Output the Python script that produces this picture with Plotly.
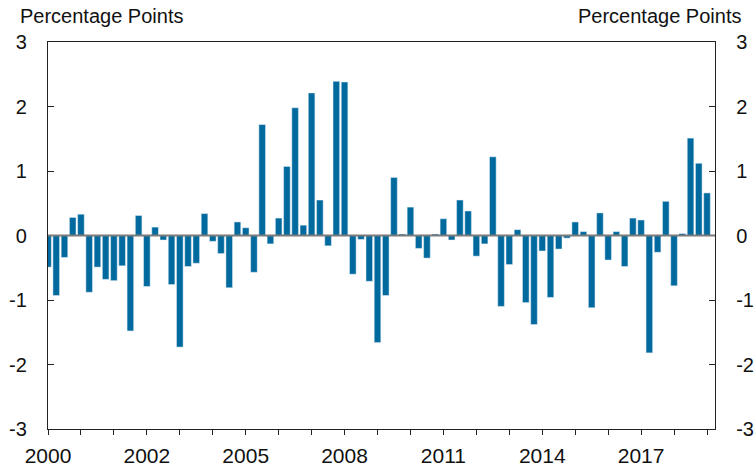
import plotly.graph_objects as go

# Quarterly values (percentage points), first quarter at index 0
values = [
    -0.49, -0.93, -0.34, 0.28, 0.33, -0.88, -0.49, -0.68, -0.70, -0.47,
    -1.48, 0.31, -0.79, 0.13, -0.07, -0.76, -1.73, -0.48, -0.43, 0.34,
    -0.09, -0.28, -0.81, 0.21, 0.12, -0.57, 1.72, -0.13, 0.27, 1.07,
    1.98, 0.16, 2.21, 0.55, -0.16, 2.39, 2.38, -0.60, -0.06, -0.71,
    -1.66, -0.93, 0.90, 0.01, 0.44, -0.20, -0.35, 0.01, 0.26, -0.07,
    0.55, 0.38, -0.32, -0.13, 1.22, -1.10, -0.45, 0.09, -1.04, -1.38,
    -0.24, -0.96, -0.21, -0.04, 0.21, 0.06, -1.12, 0.35, -0.38, 0.06,
    -0.48, 0.27, 0.24, -1.82, -0.26, 0.53, -0.78, 0.03, 1.51, 1.12,
    0.66,
]
quarters = list(range(len(values)))

year_labels = ["2000", "2002", "2005", "2008", "2011", "2014", "2017"]
year_ticks = [0, 12, 24, 36, 48, 60, 72]
tick_positions = list(range(0, 81, 4))
tick_text = [year_labels[year_ticks.index(t)] if t in year_ticks else "" for t in tick_positions]

y_ticks = [-3, -2, -1, 0, 1, 2, 3]
y_text = ["-3", "-2", "-1", "0", "1", "2", "3"]

BAR = "#006a9e"
FONT = "Liberation Sans, Arial, Helvetica, sans-serif"

fig = go.Figure()
fig.add_trace(go.Bar(x=quarters, y=values, marker=dict(color=BAR, line=dict(width=0)),
                     showlegend=False, hoverinfo="skip"))
fig.add_trace(go.Bar(x=quarters, y=values, yaxis="y2", marker=dict(color="rgba(0,0,0,0)"),
                     showlegend=False, hoverinfo="skip"))

fig.add_shape(type="line", xref="paper", x0=0, x1=1, yref="y", y0=0, y1=0,
              line=dict(color="#7a7a7a", width=2), layer="above")

axis_common = dict(range=[-3, 3], tickvals=y_ticks, ticktext=y_text, ticks="inside",
                   ticklen=6, tickcolor="#222", tickwidth=1, showline=True,
                   linecolor="#222", linewidth=1.3, showgrid=False, zeroline=False,
                   automargin=False,
                   tickfont=dict(family=FONT, size=20, color="#111"), ticklabelstandoff=16)

fig.update_layout(
    width=754, height=466,
    margin=dict(l=48, r=39, t=42, b=37),
    paper_bgcolor="white", plot_bgcolor="white",
    bargap=0.2, barmode="overlay",
    xaxis=dict(range=[0, 80.97], tickvals=tick_positions, ticktext=tick_text,
               ticks="outside", ticklen=5, tickcolor="#222", tickwidth=1,
               showline=True, linecolor="#222", linewidth=1.3, mirror=True,
               showgrid=False, zeroline=False, automargin=False,
               ticklabelstandoff=3,
               tickfont=dict(family=FONT, size=21, color="#111")),
    yaxis=dict(side="left", **axis_common),
    yaxis2=dict(side="right", overlaying="y", **axis_common),
    annotations=[
        dict(text="Percentage Points", xref="paper", yref="paper", x=-0.045, y=1.068,
             xanchor="left", yanchor="middle", showarrow=False,
             font=dict(family=FONT, size=20, color="#111")),
        dict(text="Percentage Points", xref="paper", yref="paper", x=1.042, y=1.068,
             xanchor="right", yanchor="middle", showarrow=False,
             font=dict(family=FONT, size=20, color="#111")),
    ],
)

fig.write_html(
    "out.html",
    config={"displayModeBar": False},
    post_script="document.body.style.margin='0px';document.body.style.padding='0px';"
                "document.body.style.overflow='hidden';",
)
